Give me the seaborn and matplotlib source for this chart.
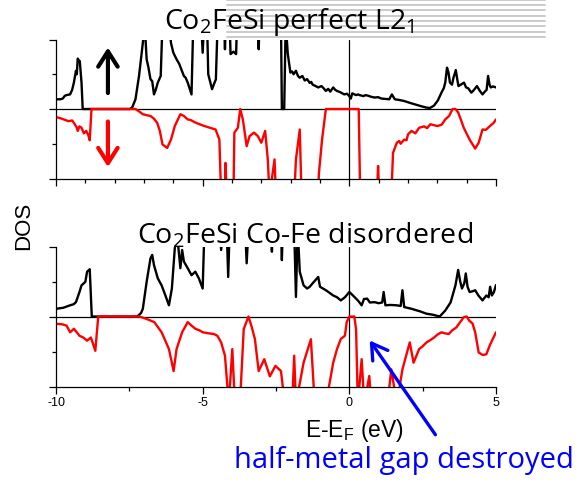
import numpy as np
import pandas as pd
import matplotlib
matplotlib.use("Agg")
import matplotlib.pyplot as plt
from matplotlib.lines import Line2D
from matplotlib.ticker import FixedLocator, NullFormatter
import seaborn as sns

# ---------------- data (energy in eV, DOS in arbitrary units; +/-2.5 = off scale) ----------------
perfect_up_E = [-10.0, -9.85, -9.77, -9.70, -9.64, -9.52, -9.45, -9.39, -9.32, -9.29, -9.26, -9.22, -9.19,
                -9.13, -9.09, -7.48, -7.40, -7.29, -7.17,
                -7.04, -6.98, -6.91, -6.85, -6.78, -6.72, -6.66, -6.60, -6.53, -6.43, -6.37, -6.15, -6.08,
                -6.00, -5.89, -5.80, -5.64, -5.58, -5.51,
                -5.38, -5.32, -5.05, -5.00, -4.95, -4.85, -4.81, -4.72, -4.68, -4.60, -4.55, -4.49, -4.27,
                -4.24, -4.21, -4.08, -4.05, -3.95, -3.86, -3.83, -3.12, -3.09, -3.06, -2.33, -2.30, -2.22,
                -2.17, -2.10, -2.01, -1.95, -1.90, -1.82, -1.75, -1.69, -1.60, -1.52, -1.44, -1.35, -1.30,
                -1.25, -1.15, -1.06, -0.95, -0.88, -0.80,
                -0.72, -0.65, -0.55, -0.48, -0.42, -0.30, -0.24, -0.17, -0.08, 0.0, 0.05, 0.10, 0.23, 0.30,
                0.35, 0.48, 0.55, 0.65, 0.75, 0.86, 0.98, 1.10, 1.25, 1.36,
                1.45, 1.55, 1.70, 1.87, 2.05, 2.25, 2.45, 2.63, 2.75, 2.89, 3.02, 3.14, 3.22, 3.27, 3.33,
                3.38, 3.43, 3.50, 3.55, 3.63, 3.68, 3.72, 3.80, 3.91, 3.98, 4.05,
                4.16, 4.25, 4.35, 4.45, 4.54, 4.62, 4.68, 4.73, 4.78, 4.82, 4.90, 5.0]
perfect_up_D = [0.28, 0.28, 0.30, 0.38, 0.40, 0.42, 0.55, 0.76, 1.10, 1.00, 1.45, 1.40, 1.38,
                0.76, 0.0, 0.0, 0.05, 0.28, 0.95,
                1.90, 2.5, 1.43, 1.20, 0.86, 0.80, 0.42, 0.55, 0.76, 0.95, 2.5, 2.5, 1.90,
                1.62, 1.43, 1.30, 0.95, 0.90, 0.76,
                0.42, 2.5, 2.5, 1.62, 2.5, 2.5, 1.00, 0.70, 0.57, 0.75, 0.85, 2.5, 2.5,
                1.72, 2.5, 2.5, 1.58, 1.65, 1.58, 2.5, 2.5, 1.72, 2.5, 2.5, 0.0, 0.0,
                2.5, 1.60, 1.05, 1.08, 1.00, 1.10, 0.95, 0.90, 0.95, 0.82, 0.86, 0.75, 0.78,
                0.70, 0.66, 0.62, 0.66, 0.60, 0.52,
                0.58, 0.50, 0.62, 0.55, 0.52, 0.48, 0.45, 0.42, 0.44, 0.37, 0.30, 0.45, 0.40, 0.42,
                0.40, 0.37, 0.40, 0.38, 0.35, 0.33, 0.34, 0.30, 0.29, 0.28,
                0.42, 0.28, 0.26, 0.23, 0.18, 0.13, 0.08, 0.04, 0.03, 0.10, 0.25, 0.47, 0.60, 0.76, 1.19,
                1.05, 0.76, 0.70, 0.90, 1.12, 0.85, 0.66, 0.70, 0.76, 0.62, 0.60,
                0.47, 0.55, 0.66, 0.52, 0.42, 0.50, 0.55, 0.95, 0.70, 0.62, 0.65, 0.62]

perfect_dn_E = [-10.0, -9.80, -9.58, -9.45, -9.39, -9.30, -9.26, -9.20, -9.13, -9.05, -8.97, -8.90, -8.85,
                -8.79, -7.29, -7.15, -7.04, -6.90, -6.78, -6.66, -6.55, -6.46,
                -6.37, -6.21, -6.08, -5.95, -5.76, -5.64, -5.51, -5.40, -5.25, -5.10, -4.94, -4.75, -4.56,
                -4.43, -4.37,
                -4.24, -4.22, -4.18, -3.95, -3.92, -3.80, -3.72, -3.63, -3.50, -3.40, -3.25, -3.12, -3.00,
                -2.87, -2.78, -2.72, -2.55, -2.50, -1.88, -1.82, -1.69, -1.63, -1.06, -1.04, -0.93, -0.80,
                0.32, 0.37, 0.94, 0.98, 1.02, 1.43, 1.49, 1.62, 1.70, 1.75, 1.87, 1.95, 2.00, 2.12, 2.25,
                2.38, 2.55, 2.65, 2.76,
                3.01, 3.15, 3.27, 3.40, 3.52, 3.62, 3.71, 3.80, 3.90, 4.10, 4.29, 4.41, 4.54, 4.65, 4.73,
                4.85, 4.92, 5.0]
perfect_dn_D = [-0.23, -0.28, -0.35, -0.33, -0.40, -0.52, -0.63, -0.50, -0.54, -0.70, -0.63, -0.75, -0.90,
                0.0, 0.0, -0.08, -0.15, -0.18, -0.20, -0.28, -0.40, -0.63,
                -1.02, -1.12, -0.88, -0.49, -0.15, -0.20, -0.30, -0.32, -0.39, -0.44, -0.49, -0.54, -0.59,
                -0.88, -2.5,
                -2.5, -1.55, -2.5, -2.5, -0.68, -0.54, 0.0, -0.30, -1.07, -0.78, -0.68, -0.78, -0.97,
                -0.63, -1.45, -2.5, -1.45, -2.5, -2.5, -1.45, -0.59, -2.5, -2.5, -1.88, -0.88, 0.0,
                0.0, -2.5, -2.5, -1.64, -2.5, -2.5, -1.26, -0.97, -0.92, -1.00, -0.88, -0.90, -0.73, -0.63, -0.70,
                -0.54, -0.50, -0.55, -0.44,
                -0.49, -0.45, -0.30, -0.20, 0.0, 0.0, -0.10, -0.30, -0.54, -0.88, -1.14, -0.97, -0.59, -0.60,
                -0.54, -0.45, -0.40, -0.30]

disorder_up_E = [-10.0, -9.75, -9.52, -9.40, -9.32, -9.20, -9.13, -9.05, -9.00, -8.94, -8.85, -8.78, -7.23,
                 -7.10, -7.04, -6.91, -6.78, -6.72,
                 -6.66, -6.53, -6.40, -6.27, -6.15, -6.05, -5.95, -5.89, -5.82, -5.76, -5.70, -5.64, -5.51,
                 -5.38, -5.25, -5.13, -5.00, -4.94, -4.43, -4.37, -4.30, -4.18, -4.13, -4.08, -3.55, -3.50,
                 -3.44, -2.68, -2.64, -2.60, -2.33, -2.30, -2.27, -1.88, -1.82, -1.76, -1.69, -1.56, -1.44,
                 -1.35, -1.25, -1.06, -1.00, -0.90, -0.80, -0.68, -0.55, -0.42, -0.29, -0.15, 0.0, 0.10,
                 0.23, 0.30, 0.42, 0.50, 0.61, 0.70, 0.86, 1.00, 1.12, 1.17, 1.23, 1.40, 1.62,
                 1.75, 1.81, 1.87, 2.12, 2.40, 2.63, 2.85, 3.08, 3.27, 3.45, 3.52, 3.62, 3.71, 3.78, 3.84,
                 3.92, 3.97, 4.03, 4.10, 4.20, 4.29, 4.40, 4.54, 4.67, 4.75, 4.80, 4.86, 4.93, 5.0]
disorder_up_D = [0.22, 0.25, 0.32, 0.35, 0.41, 0.70, 0.89, 0.95, 0.99, 1.28, 1.35, 0.0, 0.0,
                 0.10, 0.22, 0.99, 1.66, 1.76,
                 1.47, 1.09, 0.89, 0.60, 0.32, 0.80, 1.95, 2.5, 1.90, 1.38, 1.90, 1.57, 1.38,
                 1.18, 1.28, 1.09, 0.80, 2.5, 2.5, 1.90, 2.5, 2.5, 1.13, 2.5, 2.5, 1.52,
                 2.5, 2.5, 1.85, 2.5, 2.5, 1.61, 2.5, 2.5, 0.56, 2.5, 1.28, 0.89, 0.80,
                 0.85, 0.95, 1.13, 0.85, 0.80, 0.75, 0.68, 0.60, 0.55, 0.46, 0.55, 0.70, 0.62,
                 0.51, 0.45, 0.32, 0.50, 0.51, 0.40, 0.41, 0.38, 0.40, 0.70, 0.32, 0.33, 0.32,
                 0.30, 0.75, 0.27, 0.22, 0.15, 0.08, 0.05, 0.0, 0.17, 0.40, 0.60, 0.90, 1.33, 1.00, 0.80,
                 0.95, 1.23, 0.85, 0.70, 0.72, 0.75, 0.60, 0.46, 0.60, 0.55, 0.85, 0.60, 0.70, 0.90]

disorder_dn_E = [-10.0, -9.80, -9.64, -9.52, -9.45, -9.39, -9.20, -9.07, -8.94, -8.81, -8.66, -8.56, -7.16,
                 -6.91, -6.65,
                 -6.40, -6.15, -5.99, -5.89, -5.70, -5.51, -5.38, -5.25, -5.10, -5.00, -4.80, -4.62, -4.50,
                 -4.37, -4.24, -4.11,
                 -3.99, -3.90, -3.73, -3.60, -3.44, -3.34, -3.22, -3.09, -2.90, -2.71, -2.52, -2.33, -2.20,
                 -1.95, -1.88, -1.82, -1.56, -1.31, -1.18, -0.80, -0.55, -0.42, -0.29, -0.15, -0.09, 0.0,
                 0.17, 0.23, 0.29, 0.42, 0.51, 0.68, 0.75, 1.30, 1.43, 1.62, 1.81, 2.06, 2.19, 2.38, 2.50,
                 2.63, 2.75, 2.89, 3.00, 3.14, 3.25, 3.39, 3.50, 3.65, 3.90, 4.00, 4.09, 4.20, 4.29, 4.41,
                 4.55, 4.67, 4.80, 5.0]
disorder_dn_D = [-0.21, -0.22, -0.26, -0.45, -0.40, -0.35, -0.55, -0.60, -0.69, -0.60, -0.98, 0.0, 0.0,
                 -0.07, -0.16,
                 -0.45, -0.93, -1.56, -0.93, -0.45, -0.16, -0.26, -0.35, -0.40, -0.45, -0.48, -0.50, -0.55,
                 -0.74, -1.12, -2.5,
                 -0.93, -2.5, -2.5, -0.36, 0.0, -0.26, -0.64, -1.56, -1.22, -1.71, -1.41, -1.56, -2.5,
                 -2.5, -1.12, -2.5, -1.32, -0.65, -2.5, -2.5, -1.32, -0.93, -0.64, -0.55, -0.16, 0.0,
                 0.0, -0.36, -2.5, -1.22, -2.5, -1.70, -2.5, -2.5, -1.51, -2.5, -1.51, -0.74, -1.32, -0.93, -0.85,
                 -0.74, -0.68, -0.60, -0.52, -0.45, -0.48, -0.50, -0.40, -0.31, -0.02, 0.0, -0.12, -0.20, -0.45,
                 -1.03, -1.10, -1.08, -0.80, -0.45]

titles = ["Co$_\\mathregular{2}$FeSi perfect L2$_\\mathregular{1}$",
          "Co$_\\mathregular{2}$FeSi Co-Fe disordered"]
x_major = [-10, -5, 0, 5]
x_labels = ["-10", "-5", "0", "5"]
y_major = [-2, 0, 2]
y_minor = [-1, 1]

# ---------------- figure ----------------
sns.set_theme(style="white")
plt.rcParams["font.family"] = ["Liberation Sans", "DejaVu Sans"]

W, H = 587, 481
fig = plt.figure(figsize=(W / 100, H / 100), dpi=100)
fig.patch.set_facecolor("white")

def fx(px):
    return px / W

def fy(py):
    return 1 - py / H

# decorative grey stripes behind the first title
for k in range(8):
    yy = fy(0.8 + k * 5.3)
    fig.add_artist(Line2D([fx(227), fx(545)], [yy, yy], color="#c6c6c6", lw=1.3,
                          transform=fig.transFigure, zorder=0))

ax1 = fig.add_axes([fx(56), fy(179.5), fx(440), (179.5 - 40.5) / H])
ax2 = fig.add_axes([fx(56), fy(387.5), fx(440), (387.5 - 247.5) / H])

panels = [
    (ax1, perfect_up_E, perfect_up_D, perfect_dn_E, perfect_dn_D),
    (ax2, disorder_up_E, disorder_up_D, disorder_dn_E, disorder_dn_D),
]
for ax, ue, ud, de, dd in panels:
    up = pd.DataFrame({"E": ue, "DOS": ud})
    dn = pd.DataFrame({"E": de, "DOS": dd})
    sns.lineplot(data=up, x="E", y="DOS", estimator=None, sort=False, color="black", lw=1.7, ax=ax)
    sns.lineplot(data=dn, x="E", y="DOS", estimator=None, sort=False, color="#ff0000", lw=1.7, ax=ax)
    ax.axhline(0, color="black", lw=0.9, zorder=1)
    ax.axvline(0, color="black", lw=0.9, zorder=1)
    ax.set_xlim(-10, 5)
    ax.set_ylim(-2, 2)
    ax.set_facecolor("none")
    for s in ["top", "right"]:
        ax.spines[s].set_visible(False)
    for s in ["left", "bottom"]:
        ax.spines[s].set_color("black")
        ax.spines[s].set_linewidth(0.9)
    ax.set_xlabel("")
    ax.set_ylabel("")
    ax.yaxis.set_major_locator(FixedLocator(y_major))
    ax.yaxis.set_minor_locator(FixedLocator(y_minor))
    ax.yaxis.set_major_formatter(NullFormatter())
    ax.tick_params(axis="both", which="major", direction="out", length=5, width=0.9, color="black",
                   left=True, bottom=True)
    ax.tick_params(axis="both", which="minor", direction="out", length=2.6, width=0.9, color="black",
                   left=True, bottom=True)

ax1.xaxis.set_major_locator(FixedLocator(x_major))
ax1.xaxis.set_minor_locator(FixedLocator(list(range(-10, 6))))
ax1.xaxis.set_major_formatter(NullFormatter())

ax2.xaxis.set_major_locator(FixedLocator(x_major))
ax2.set_xticklabels(x_labels)
ax2.xaxis.set_minor_locator(FixedLocator([-7.5, -2.5, 2.5]))
ax2.tick_params(axis="x", which="major", labelsize=9, pad=2, labelcolor="black")

# spin arrows
arrow_style = "->, head_length=0.55, head_width=0.35"
ax1.annotate("", xy=(-8.23, 1.85), xytext=(-8.23, 0.38),
             arrowprops=dict(arrowstyle=arrow_style, color="black", lw=3.0, mutation_scale=20))
ax1.annotate("", xy=(-8.23, -1.75), xytext=(-8.23, -0.28),
             arrowprops=dict(arrowstyle=arrow_style, color="#ff0000", lw=3.0, mutation_scale=20))

# titles and labels
fig.text(fx(289), fy(29), titles[0], ha="center", va="baseline", fontsize=20.5,
         family=["Open Sans", "DejaVu Sans"], color="black")
fig.text(fx(305), fy(243), titles[1], ha="center", va="baseline", fontsize=20.5,
         family=["Open Sans", "DejaVu Sans"], color="black")
fig.text(fx(24), fy(226), "DOS", rotation=90, ha="center", va="center", fontsize=16, color="black")
fig.text(fx(354), fy(437), "E-E$_\\mathregular{F}$ (eV)", ha="center", va="baseline", fontsize=16.5,
         color="black")

# annotation: half-metal gap destroyed
ax2.annotate("", xy=(0.64, -0.62), xytext=(fx(437), fy(438)), textcoords="figure fraction",
             arrowprops=dict(arrowstyle="->, head_length=0.5, head_width=0.3", color="#0000ff",
                             lw=2.4, mutation_scale=22),
             annotation_clip=False)
fig.text(fx(404), fy(468), "half-metal gap destroyed", ha="center", va="baseline", fontsize=21,
         family=["Open Sans", "DejaVu Sans"], color="#0000ff")

fig.savefig("out.png", dpi=100, facecolor="white")
